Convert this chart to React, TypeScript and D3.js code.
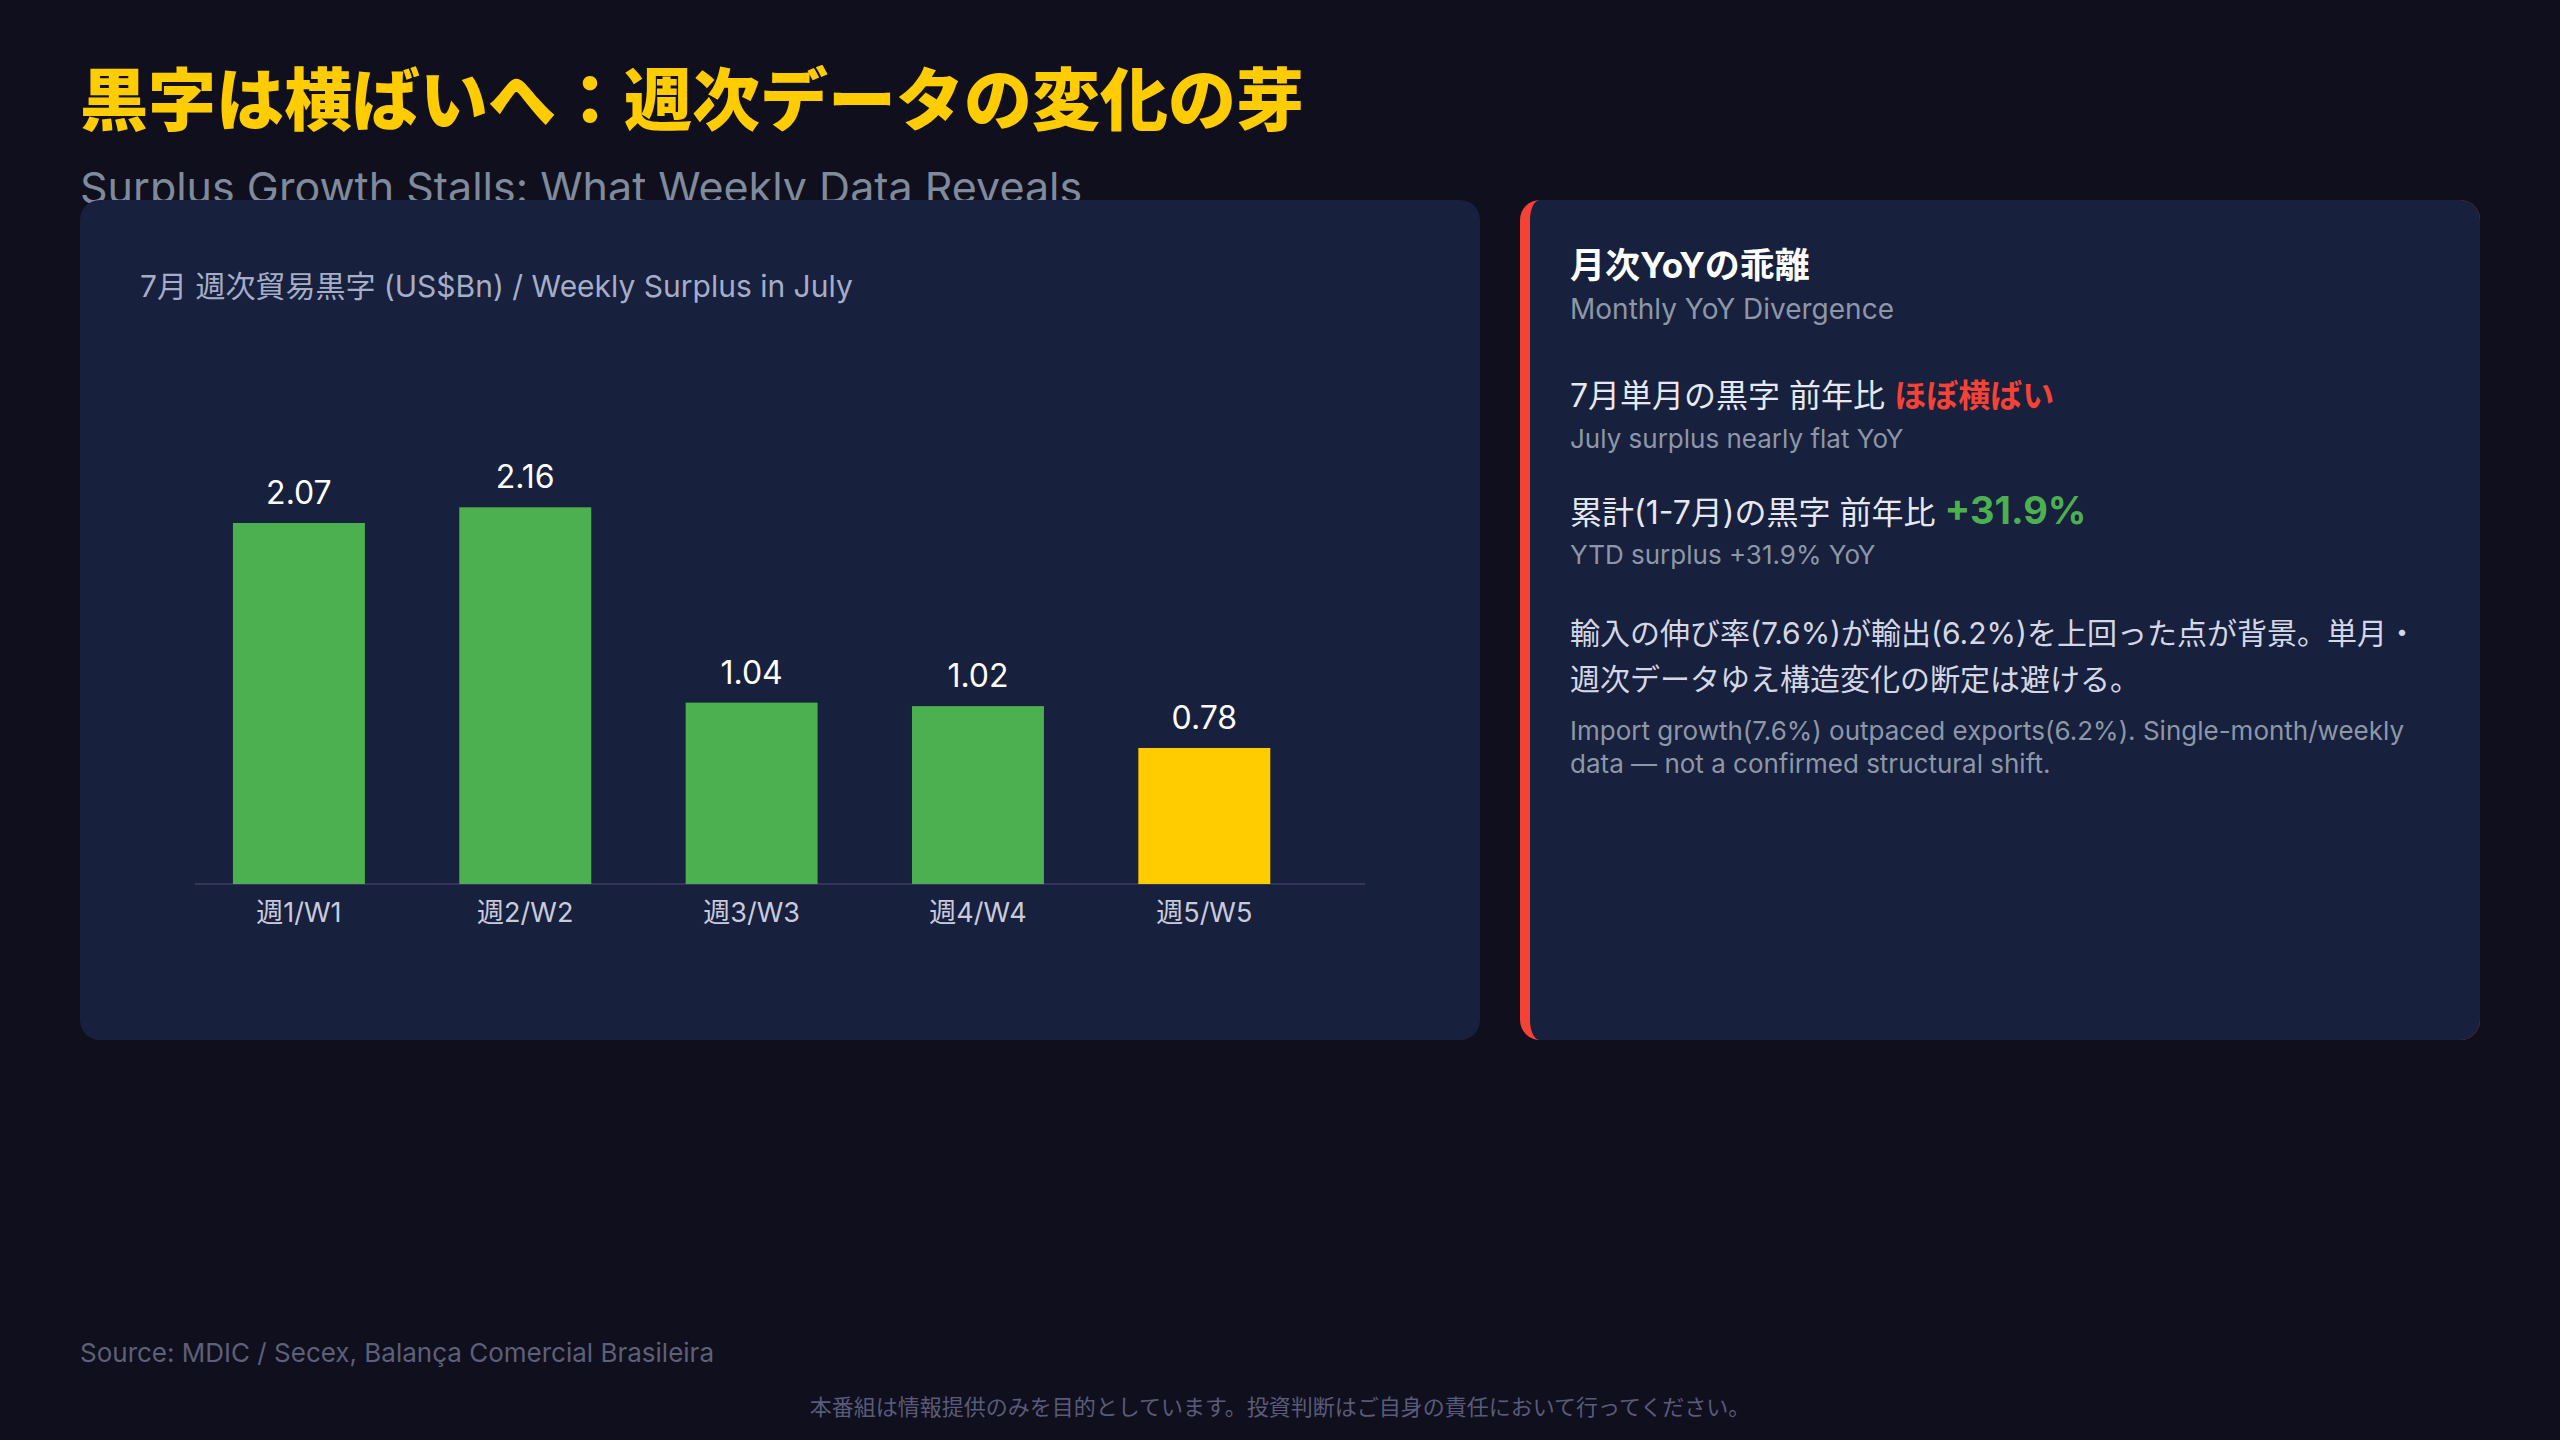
import * as d3 from 'd3';

// weekly trade surplus, July (US$Bn)
const weeks = ['週1/W1', '週2/W2', '週3/W3', '週4/W4', '週5/W5'];
const surplus = [2.07, 2.16, 1.04, 1.02, 0.78];

const title = '黒字は横ばいへ：週次データの変化の芽';
const subtitle = 'Surplus Growth Stalls: What Weekly Data Reveals';
const chartTitle = '7月 週次貿易黒字 (US$Bn) / Weekly Surplus in July';

const noteTitle = '月次YoYの乖離';
const noteSub = 'Monthly YoY Divergence';
const julyLine = ['7月単月の黒字 前年比 ', 'ほぼ横ばい'];
const julySub = 'July surplus nearly flat YoY';
const ytdLine = ['累計(1-7月)の黒字 前年比 ', '+31.9%'];
const ytdSub = 'YTD surplus +31.9% YoY';
const bodyJa = ['輸入の伸び率(7.6%)が輸出(6.2%)を上回った点が背景。単月・', '週次データゆえ構造変化の断定は避ける。'];
const bodyEn = ['Import growth(7.6%) outpaced exports(6.2%). Single-month/weekly', 'data — not a confirmed structural shift.'];

const source = 'Source: MDIC / Secex, Balança Comercial Brasileira';
const disclaimer = '本番組は情報提供のみを目的としています。投資判断はご自身の責任において行ってください。';

const W = 2560;
const H = 1440;
const FONT = 'Inter, "Noto Sans CJK JP", sans-serif';
const FONT_JA = '"Noto Sans CJK JP", sans-serif';

const BG = '#0f0f1d';
const PANEL = '#17203c';
const GREEN = '#4caf50';
const YELLOW = '#ffcc00';
const RED = '#f44336';

export default function App() {
  const baseY = 884;
  const x = d3
    .scaleBand<string>()
    .domain(weeks)
    .range([195, 1365])
    .paddingInner(0.417)
    .paddingOuter(0.293)
    .align(0.286);
  const y = d3.scaleLinear().domain([0, 2.5]).range([baseY, baseY - 436]);
  const fmt = d3.format('.2f');

  // right card: red left border with rounded corners, inner fill with elliptical inner corner
  const cx = 1520, cy = 200, cw = 960, ch = 840, r = 20, bw = 10;
  const inner = d3.path();
  inner.moveTo(cx + r, cy);
  inner.lineTo(cx + cw - r, cy);
  inner.arcTo(cx + cw, cy, cx + cw, cy + r, r);
  inner.lineTo(cx + cw, cy + ch - r);
  inner.arcTo(cx + cw, cy + ch, cx + cw - r, cy + ch, r);
  inner.lineTo(cx + r, cy + ch);
  const innerD =
    inner.toString() +
    `A${r - bw},${r} 0 0 1 ${cx + bw},${cy + ch - r}` +
    `L${cx + bw},${cy + r}` +
    `A${r - bw},${r} 0 0 1 ${cx + r},${cy}Z`;

  const tx = 1570;

  return (
    <>
      <style>{`body{margin:0;background:${BG};}`}</style>
      <svg width={W} height={H} style={{ display: 'block', fontFamily: FONT }}>
        <rect width={W} height={H} fill={BG} />

        <text x={80} y={125} fontSize={68} fontWeight={900} fill={YELLOW} fontFamily={FONT_JA}>
          {title}
        </text>
        <text x={80} y={203} fontSize={43} fill="#7f8a9c">
          {subtitle}
        </text>

        {/* chart card */}
        <rect x={80} y={200} width={1400} height={840} rx={20} fill={PANEL} />
        <text x={140} y={297} fontSize={30} fill="#a6adc8">
          {chartTitle}
        </text>

        <line x1={195} x2={1365} y1={baseY} y2={baseY} stroke="#363458" strokeWidth={2} />

        {surplus.map((v, i) => (
          <g key={weeks[i]}>
            <rect
              x={x(weeks[i])}
              y={y(v)}
              width={x.bandwidth()}
              height={baseY - y(v)}
              fill={i === weeks.length - 1 ? YELLOW : GREEN}
            />
            <text
              x={x(weeks[i])! + x.bandwidth() / 2}
              y={y(v) - 19}
              textAnchor="middle"
              fontSize={32}
              fill="#ffffff"
            >
              {fmt(v)}
            </text>
            <text
              x={x(weeks[i])! + x.bandwidth() / 2}
              y={922}
              textAnchor="middle"
              fontSize={27}
              fill="#c9cbdc"
            >
              {weeks[i]}
            </text>
          </g>
        ))}

        {/* note card */}
        <rect x={cx} y={cy} width={cw} height={ch} rx={r} fill={RED} />
        <path d={innerD} fill={PANEL} />

        <text x={tx} y={278} fontSize={35} fontWeight={700} fill="#ffffff">
          {noteTitle}
        </text>
        <text x={tx} y={319} fontSize={28} fill="#8d97a8">
          {noteSub}
        </text>

        <text x={tx} y={407} fontSize={32} fill="#e6e8f0">
          {julyLine[0]}
          <tspan fill={RED} fontWeight={700}>
            {julyLine[1]}
          </tspan>
        </text>
        <text x={tx} y={448} fontSize={26} fill="#8d97a8">
          {julySub}
        </text>

        <text x={tx} y={524} fontSize={32} fill="#e6e8f0">
          {ytdLine[0]}
          <tspan fill={GREEN} fontWeight={700} fontSize={38}>
            {ytdLine[1]}
          </tspan>
        </text>
        <text x={tx} y={564} fontSize={26} fill="#8d97a8">
          {ytdSub}
        </text>

        {bodyJa.map((line, i) => (
          <text key={line} x={tx} y={644 + i * 46} fontSize={30} fill="#d4d7e6">
            {line}
          </text>
        ))}
        {bodyEn.map((line, i) => (
          <text key={line} x={tx} y={740 + i * 33} fontSize={26} fill="#8d97a8">
            {line}
          </text>
        ))}

        <text x={80} y={1362} fontSize={26} fill="#5d6079">
          {source}
        </text>
        <text x={W / 2} y={1415} fontSize={22} textAnchor="middle" fill="#5a5b7a">
          {disclaimer}
        </text>
      </svg>
    </>
  );
}
